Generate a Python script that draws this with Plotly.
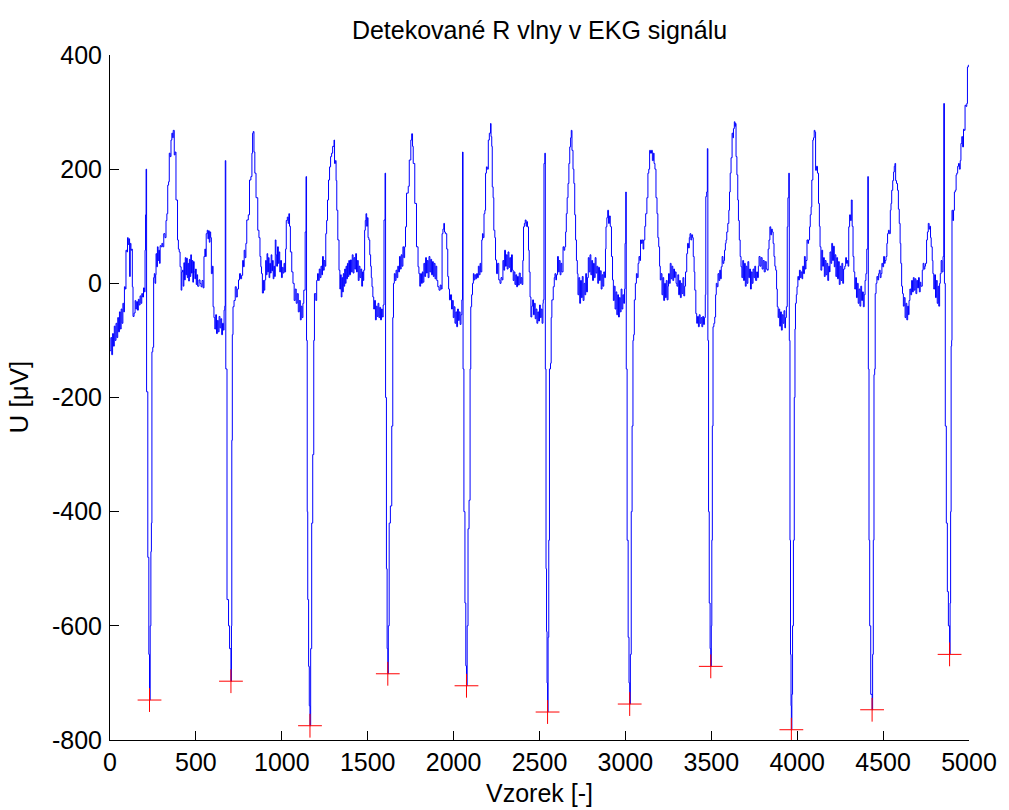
import plotly.graph_objects as go

# EKG record: (sample index, amplitude in microvolts), split per cardiac cycle.
lead_in = [(0, -118), (5, -95), (10, -125), (15, -88), (20, -110), (25, -75), (30, -100), (35, -70),
           (40, -95), (45, -60), (50, -85), (55, -50), (60, -80), (65, -45), (70, -70), (75, -35),
           (80, -50), (84, -6), (89, -10), (93, 58), (98, 55), (102, 80), (106, 68), (110, 78),
           (114, 12), (118, 70), (122, 58), (126, 60), (130, -6), (134, -58), (140, -52), (146, -30),
           (150, -45), (155, -32), (160, -47), (165, -28), (170, -38), (175, -22), (180, -35), (185, -18),
           (190, -24), (195, -8), (200, -15), (204, 58), (207, 120)]

beat_01 = [(210, 200), (213, -190), (220, -480), (226, -650), (230, -730), (234, -600), (238, -470),
           (241, -420), (244, -120), (249, -112), (254, 10), (258, 17), (262, 0), (266, 15), (268, 52),
           (272, 29), (276, 64), (280, 40), (284, 58), (288, 35), (292, 66), (297, 64), (302, 70),
           (307, 64), (313, 87), (320, 80), (326, 110), (331, 122), (336, 172), (341, 178), (345, 228),
           (350, 222), (355, 251), (360, 263), (365, 255), (368, 268), (374, 225), (379, 230), (384, 146),
           (393, 76), (398, 60), (403, 55), (408, 29), (414, -12), (418, 20), (422, 23), (426, -5),
           (430, 36), (434, 6), (438, 45), (442, 15), (446, 44), (450, 10), (454, 35), (458, 4),
           (462, 42), (466, 12), (470, 50), (474, 18), (478, 40), (482, 2), (486, 38), (490, 20),
           (494, 8), (498, 25), (502, -2), (506, 15), (510, -5), (518, 6), (524, 0), (530, -6),
           (536, 5), (542, -8), (547, 47), (552, 60), (556, 47), (560, 87), (566, 93), (570, 78),
           (574, 92), (578, 72), (582, 90), (586, 80), (590, 17), (596, 30), (600, -41), (605, -60),
           (610, -80), (615, -55), (620, -88), (625, -65), (630, -85), (635, -58), (640, -78), (645, -62),
           (650, -90), (655, -70), (660, -82), (664, -47), (668, -40)]

beat_02 = [(671, 215), (674, -150), (681, -554), (690, -600), (696, -640), (704, -697), (707, -600),
           (709, -275), (712, -90), (716, -41), (722, -30), (729, -6), (735, -24), (741, -10), (748, 6),
           (754, 17), (760, 8), (766, 14), (772, 40), (777, 29), (781, 58), (786, 45), (791, 70),
           (796, 111), (805, 120), (812, 181), (820, 187), (826, 228), (830, 263), (834, 266), (838, 230),
           (843, 193), (850, 150), (860, 93), (867, 80), (873, 47), (878, 29), (882, 17), (887, -17),
           (893, 5), (897, -12), (901, 6), (906, 40), (910, 15), (914, 52), (918, 20), (922, 45),
           (926, 10), (930, 35), (934, 18), (938, 50), (942, 22), (946, 40), (950, 8), (954, 30),
           (958, 12), (962, 76), (966, 50), (970, 30), (975, 64), (980, 35), (984, 55), (988, 20),
           (993, 40), (998, 10), (1003, 28), (1008, 18), (1013, 35), (1017, 20), (1022, 60), (1026, 110),
           (1032, 116), (1037, 105), (1041, 122), (1045, 100), (1050, 55), (1058, 20), (1065, 0),
           (1072, -30), (1078, -10), (1084, -35), (1090, -18), (1096, -50), (1102, -30), (1108, -64),
           (1113, -40), (1118, -60), (1123, -35), (1128, -12), (1136, 90)]

beat_03 = [(1141, 187), (1144, -100), (1148, -400), (1151, -554), (1156, -671), (1160, -740), (1164, -775),
           (1168, -640), (1174, -420), (1180, -300), (1186, -100), (1190, -18), (1198, -30), (1203, 5),
           (1208, 17), (1213, 5), (1218, 25), (1223, 10), (1228, 30), (1233, 15), (1237, 47), (1242, 23),
           (1247, 40), (1252, 30), (1256, 87), (1261, 110), (1266, 146), (1272, 181), (1278, 204),
           (1284, 222), (1290, 228), (1296, 240), (1304, 251), (1307, 210), (1312, 215), (1316, 180),
           (1320, 128), (1326, 76), (1333, 23), (1338, -10), (1342, 15), (1346, -24), (1350, 10),
           (1354, -15), (1358, 17), (1362, -5), (1366, 25), (1370, 0), (1374, 30), (1378, 8), (1382, 35),
           (1386, 12), (1390, 40), (1394, 15), (1400, 41), (1405, 20), (1410, 50), (1415, 18), (1420, 45),
           (1425, 25), (1430, 52), (1435, 20), (1440, 40), (1445, 5), (1450, 30), (1455, 10), (1460, 25),
           (1465, -5), (1470, 20), (1474, 5), (1477, 23), (1482, 93), (1486, 110), (1490, 122),
           (1494, 100), (1498, 115), (1502, 80), (1507, 76), (1512, 50), (1517, 30), (1521, 10),
           (1525, -6), (1530, -24), (1535, -45), (1540, -30), (1545, -64), (1550, -40), (1555, -58),
           (1560, -35), (1565, -60), (1570, -42), (1575, -64), (1580, -45), (1585, -59), (1590, -38),
           (1595, 111)]

beat_04 = [(1601, 193), (1604, -200), (1609, -500), (1613, -640), (1617, -684), (1620, -600), (1625, -420),
           (1632, -390), (1640, -250), (1646, -60), (1650, 0), (1655, 17), (1660, 5), (1665, 23),
           (1670, 10), (1675, 30), (1680, 20), (1685, 47), (1690, 25), (1695, 50), (1700, 30), (1705, 64),
           (1710, 45), (1715, 64), (1720, 99), (1726, 158), (1736, 170), (1742, 216), (1751, 251),
           (1756, 262), (1761, 240), (1765, 210), (1774, 140), (1784, 64), (1793, 29), (1798, 17),
           (1803, -5), (1808, 17), (1813, 0), (1818, 20), (1822, 2), (1827, 35), (1832, 12), (1837, 45),
           (1842, 18), (1847, 40), (1852, 10), (1857, 47), (1862, 20), (1867, 42), (1872, 15), (1877, 38),
           (1882, 12), (1887, 35), (1892, 8), (1897, 30), (1902, 5), (1908, -6), (1915, -12), (1922, -3),
           (1928, -10), (1933, 87), (1938, 95), (1943, 105), (1947, 90), (1952, 87), (1960, 60),
           (1966, 12), (1971, -10), (1976, -29), (1982, -20), (1988, -45), (1993, -30), (1998, -60),
           (2003, -41), (2008, -70), (2013, -50), (2018, -76), (2023, -45), (2028, -65), (2033, -50),
           (2038, -72), (2043, -55), (2048, -29)]

beat_05 = [(2052, 230), (2055, -150), (2060, -400), (2066, -560), (2071, -670), (2075, -705), (2079, -600),
           (2084, -430), (2090, -380), (2096, -150), (2100, -41), (2105, -20), (2110, 0), (2115, 17),
           (2119, 6), (2124, 15), (2129, 8), (2134, 17), (2139, 10), (2144, 30), (2149, 15), (2154, 35),
           (2158, 20), (2164, 76), (2168, 87), (2172, 80), (2177, 122), (2182, 128), (2186, 193),
           (2191, 204), (2196, 200), (2202, 251), (2208, 263), (2215, 280), (2218, 257), (2222, 240),
           (2225, 169), (2230, 150), (2234, 93), (2240, 80), (2244, 41), (2250, 17), (2256, 35), (2263, 6),
           (2270, 0), (2276, 10), (2282, 6), (2287, 40), (2292, 23), (2297, 58), (2302, 30), (2307, 50),
           (2312, 25), (2317, 55), (2322, 28), (2327, 45), (2332, 20), (2337, 50), (2342, 23), (2347, 5),
           (2352, 20), (2357, -2), (2362, 15), (2367, -6), (2372, 12), (2377, -3), (2382, 18), (2388, 0),
           (2393, 10), (2398, -2), (2403, 40), (2407, 99), (2412, 105), (2417, 111), (2422, 100),
           (2426, 108), (2430, 99), (2436, 58), (2440, 20), (2445, -24), (2450, -59), (2455, -40),
           (2460, -29), (2465, -55), (2470, -35), (2475, -62), (2480, -45), (2485, -70), (2490, -50),
           (2495, -66), (2500, -38), (2505, -60), (2510, -45), (2515, -70), (2520, -35), (2522, -29),
           (2526, 210)]

beat_06 = [(2531, 228), (2534, -150), (2538, -500), (2541, -610), (2544, -700), (2547, -751), (2550, -620),
           (2554, -450), (2558, -150), (2564, -140), (2568, -60), (2572, -29), (2580, -6), (2586, 10),
           (2590, 17), (2595, 6), (2599, 15), (2605, 47), (2610, 20), (2615, 40), (2620, 15), (2625, 35),
           (2630, 20), (2637, 64), (2642, 58), (2647, 64), (2652, 90), (2656, 122), (2661, 150),
           (2666, 175), (2671, 210), (2676, 239), (2681, 255), (2685, 268), (2689, 233), (2695, 200),
           (2700, 175), (2705, 120), (2710, 76), (2715, 40), (2720, 17), (2724, -20), (2729, 10),
           (2734, -35), (2739, 5), (2744, -25), (2749, 12), (2754, -30), (2759, 0), (2764, -20), (2769, 17),
           (2774, -15), (2779, 10), (2784, 45), (2789, 20), (2794, 50), (2799, 15), (2804, 40), (2809, 5),
           (2814, 35), (2819, 10), (2824, 45), (2829, 18), (2834, 30), (2839, 0), (2844, 28), (2849, 5),
           (2854, 22), (2859, -10), (2864, 15), (2869, -5), (2874, 20), (2879, 10), (2884, 60), (2887, 99),
           (2892, 115), (2897, 128), (2902, 105), (2907, 118), (2912, 100), (2915, 99), (2919, 47),
           (2925, 6), (2930, -30), (2935, -5), (2940, -45), (2945, -15), (2950, -55), (2955, -20),
           (2960, -59), (2965, -25), (2970, -50), (2975, -10), (2980, -45), (2985, -20), (2990, -35),
           (2995, -10), (2998, 70)]

beat_07 = [(3002, 160), (3005, -150), (3010, -450), (3016, -620), (3021, -700), (3025, -737), (3029, -650),
           (3034, -400), (3039, -250), (3044, -100), (3048, -90), (3052, -29), (3058, 0), (3064, 17),
           (3069, 10), (3074, 35), (3079, 47), (3084, 40), (3088, 76), (3093, 70), (3098, 76), (3103, 60),
           (3107, 76), (3113, 100), (3118, 122), (3125, 150), (3131, 193), (3136, 200), (3141, 233),
           (3146, 228), (3152, 233), (3157, 215), (3163, 228), (3167, 210), (3172, 200), (3178, 150),
           (3184, 122), (3189, 80), (3194, 64), (3199, 30), (3203, 6), (3208, 17), (3213, -20), (3218, 10),
           (3223, -30), (3228, 0), (3233, -25), (3238, 5), (3243, -29), (3248, -5), (3251, 17), (3256, 0),
           (3261, 35), (3266, 8), (3271, 30), (3276, 5), (3281, 25), (3286, 10), (3290, 20), (3295, 0),
           (3300, -5), (3305, 15), (3310, -20), (3315, 5), (3320, -25), (3325, 0), (3330, -18), (3335, 10),
           (3340, -22), (3345, -5), (3350, 20), (3357, 52), (3362, 70), (3367, 62), (3372, 80), (3376, 87),
           (3381, 76), (3386, 85), (3391, 80), (3395, 47), (3400, 20), (3404, -12), (3410, -53),
           (3415, -70), (3420, -58), (3425, -76), (3430, -55), (3435, -70), (3440, -60), (3445, -76),
           (3450, -58), (3455, -72), (3460, -60), (3465, -20), (3468, 152), (3473, 160)]

beat_08 = [(3477, 236), (3480, -100), (3484, -400), (3488, -560), (3493, -640), (3497, -671), (3500, -600),
           (3503, -450), (3506, -250), (3510, -76), (3515, -70), (3520, -59), (3525, -20), (3529, 0),
           (3534, -6), (3539, 17), (3544, 5), (3549, 23), (3554, 8), (3558, 29), (3563, 47), (3568, 35),
           (3573, 40), (3577, 58), (3582, 70), (3586, 76), (3590, 90), (3596, 105), (3602, 128),
           (3606, 160), (3610, 193), (3615, 220), (3621, 263), (3626, 255), (3629, 271), (3634, 283),
           (3638, 275), (3640, 280), (3644, 222), (3649, 190), (3654, 146), (3658, 110), (3663, 76),
           (3668, 47), (3673, 29), (3678, 10), (3683, 40), (3688, 5), (3693, 35), (3698, -5), (3703, 30),
           (3708, 0), (3713, 38), (3718, 10), (3723, 25), (3728, -10), (3733, 20), (3738, 0), (3743, 25),
           (3748, 10), (3753, 30), (3758, 5), (3764, 20), (3769, 10), (3774, 30), (3778, 47), (3784, 30),
           (3790, 45), (3796, 25), (3802, 40), (3808, 20), (3814, 38), (3820, 25), (3826, 23), (3831, 60),
           (3836, 76), (3841, 99), (3846, 85), (3851, 95), (3855, 90), (3860, 70), (3865, 47), (3870, 30),
           (3875, 23), (3880, -10), (3884, -41), (3889, -60), (3893, -45), (3898, -75), (3903, -50),
           (3908, -82), (3913, -55), (3918, -70), (3923, -48), (3928, -78), (3932, -60), (3937, -41),
           (3942, 99), (3946, 150)]

beat_09 = [(3951, 193), (3954, -100), (3958, -450), (3961, -650), (3964, -740), (3966, -782), (3969, -720),
           (3973, -600), (3978, -450), (3983, -200), (3987, -80), (3990, -35), (3995, -20), (3999, -6),
           (4004, 12), (4008, 6), (4013, 23), (4018, 10), (4023, 20), (4028, 8), (4032, 30), (4037, 17),
           (4042, 47), (4047, 25), (4051, 40), (4057, 76), (4062, 70), (4066, 76), (4072, 99), (4076, 120),
           (4081, 134), (4085, 181), (4091, 251), (4095, 255), (4099, 268), (4103, 265), (4107, 198),
           (4112, 205), (4118, 193), (4124, 140), (4129, 100), (4133, 64), (4138, 23), (4143, 58),
           (4148, 30), (4153, 45), (4158, 12), (4163, 40), (4168, 15), (4173, 35), (4178, 5), (4183, 30),
           (4188, 20), (4191, 55), (4196, 35), (4201, 70), (4206, 40), (4211, 65), (4216, 29), (4220, 50),
           (4225, 12), (4230, 45), (4235, 8), (4240, 38), (4245, -2), (4250, 30), (4255, 5), (4260, 35),
           (4265, 0), (4270, 25), (4277, 30), (4282, 45), (4287, 35), (4292, 40), (4296, 30), (4300, 99),
           (4305, 120), (4310, 110), (4315, 146), (4320, 100), (4325, 47), (4330, 20), (4335, -10),
           (4340, 10), (4345, -25), (4350, 0), (4355, -35), (4360, -10), (4365, -40), (4370, -5),
           (4375, -30), (4380, -15), (4385, -41), (4390, -20), (4395, 5), (4400, 17), (4405, 60)]

beat_10 = [(4411, 187), (4414, -150), (4418, -450), (4422, -600), (4428, -720), (4436, -747), (4439, -650),
           (4443, -450), (4447, -160), (4451, -150), (4454, -18), (4459, 0), (4464, 12), (4469, 6),
           (4474, 17), (4478, 23), (4483, 10), (4488, 17), (4493, 35), (4498, 29), (4503, 47), (4508, 35),
           (4512, 40), (4517, 47), (4522, 70), (4526, 87), (4531, 93), (4536, 87), (4542, 128), (4546, 140),
           (4550, 163), (4556, 180), (4561, 195), (4565, 205), (4569, 210), (4573, 180), (4578, 175),
           (4584, 163), (4589, 130), (4594, 105), (4599, 70), (4603, 35), (4608, -5), (4613, -18),
           (4618, -40), (4623, -25), (4628, -60), (4633, -35), (4638, -64), (4643, -40), (4648, -55),
           (4651, -30), (4656, -10), (4661, -20), (4666, 5), (4671, -15), (4676, 10), (4681, -12),
           (4686, 8), (4691, -18), (4696, 5), (4701, -8), (4706, 10), (4711, -15), (4716, 2), (4720, -5),
           (4728, 23), (4733, 35), (4738, 25), (4743, 30), (4747, 35), (4753, 76), (4758, 90), (4763, 105),
           (4768, 95), (4772, 100), (4776, 80), (4780, 64), (4786, 40), (4790, 17), (4795, -10), (4800, 15),
           (4805, -25), (4810, 5), (4815, -35), (4820, -5), (4824, -40), (4829, 0), (4833, 17), (4838, 40),
           (4843, 20), (4849, 47)]

beat_11 = [(4853, 315), (4857, 0), (4862, -250), (4868, -420), (4874, -540), (4880, -600), (4887, -650),
           (4890, -560), (4893, -400), (4896, -110), (4899, -100), (4901, 128), (4906, 110), (4910, 128),
           (4915, 160), (4920, 163), (4925, 190), (4929, 193), (4934, 205), (4939, 210), (4944, 200),
           (4949, 215), (4953, 245), (4958, 257), (4963, 239), (4968, 270), (4972, 268), (4977, 312),
           (4982, 310), (4987, 315), (4991, 379), (4996, 382), (5000, 382)]

# Detected R waves (sample index, amplitude in microvolts)
r_peak_sample = [230, 704, 1164, 1617, 2075, 2547, 3025, 3497, 3966, 4436, 4887]
r_peak_uv = [-730, -697, -775, -684, -705, -751, -737, -671, -782, -747, -650]

# Axis ticks
x_ticks = [0, 500, 1000, 1500, 2000, 2500, 3000, 3500, 4000, 4500, 5000]
y_ticks = [-800, -600, -400, -200, 0, 200, 400]
y_tick_text = ["-800", "-600", "-400", "-200", "0", "200", "400"]

cycles = [lead_in, beat_01, beat_02, beat_03, beat_04, beat_05, beat_06,
          beat_07, beat_08, beat_09, beat_10, beat_11]
ekg_x = [s for cyc in cycles for s, _ in cyc]
ekg_y = [v for cyc in cycles for _, v in cyc]

FONT = "Liberation Sans, Arial, Helvetica, sans-serif"

fig = go.Figure()
fig.add_trace(go.Scatter(
    x=ekg_x, y=ekg_y, mode="lines",
    line=dict(color="#0000ff", width=1, shape="hv"),
    hoverinfo="skip", showlegend=False,
))
fig.add_trace(go.Scatter(
    x=r_peak_sample, y=r_peak_uv, mode="markers",
    marker=dict(symbol="cross-thin", size=17, color="#ff0000",
                line=dict(color="#ff0000", width=1)),
    showlegend=False,
))

axis_common = dict(
    showline=True, linecolor="#000000", linewidth=1, mirror=False,
    ticks="inside", ticklen=9, tickwidth=1, tickcolor="#000000",
    showgrid=False, zeroline=False,
    tickfont=dict(family=FONT, size=25, color="#000000"),
)

fig.update_xaxes(range=[0, 5000], tickvals=x_ticks,
                 ticktext=[str(t) for t in x_ticks], **axis_common)
fig.update_yaxes(range=[-800, 400], tickvals=y_ticks, ticktext=y_tick_text,
                 ticklabelstandoff=2, **axis_common)

fig.update_layout(
    width=1009, height=810,
    margin=dict(l=110, r=29, t=55, b=70),
    plot_bgcolor="white", paper_bgcolor="white",
    font=dict(family=FONT, color="#000000"),
    title=dict(text="Detekované R vlny v EKG signálu",
               font=dict(family=FONT, size=25, color="#000000"),
               x=0.5, xref="paper", xanchor="center",
               y=1 - 30 / 810, yref="container", yanchor="middle"),
    annotations=[
        dict(text="Vzorek [-]", x=0.5, y=0, xref="paper", yref="paper",
             xanchor="center", yanchor="middle", yshift=-53, showarrow=False,
             font=dict(family=FONT, size=25, color="#000000")),
        dict(text="U [μV]", x=0, y=0.5, xref="paper", yref="paper",
             xanchor="center", yanchor="middle", xshift=-92, textangle=-90,
             showarrow=False, font=dict(family=FONT, size=26, color="#000000")),
    ],
)

fig.write_html("out.html")
